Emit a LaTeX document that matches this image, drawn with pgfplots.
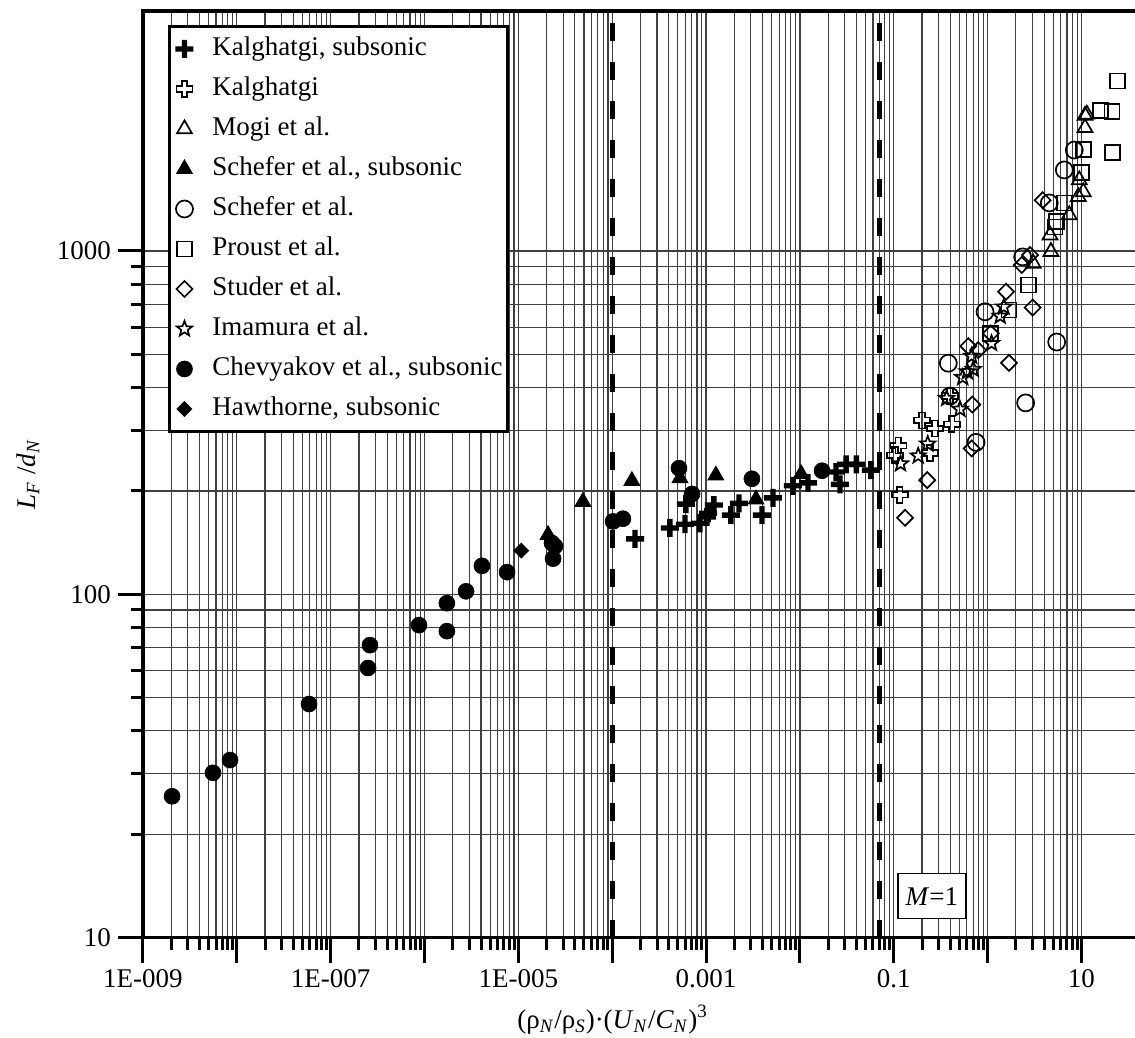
\documentclass[border=0pt]{standalone}
\usepackage{fontspec}
\setmainfont{Liberation Serif}
\usepackage{pgfplots}
\pgfplotsset{compat=1.18}

% outline / filled plus
\newcommand\pluspath[1]{%
  \pgfpathmoveto{\pgfqpoint{-#1\pgfplotmarksize}{\pgfplotmarksize}}%
  \pgfpathlineto{\pgfqpoint{#1\pgfplotmarksize}{\pgfplotmarksize}}%
  \pgfpathlineto{\pgfqpoint{#1\pgfplotmarksize}{#1\pgfplotmarksize}}%
  \pgfpathlineto{\pgfqpoint{\pgfplotmarksize}{#1\pgfplotmarksize}}%
  \pgfpathlineto{\pgfqpoint{\pgfplotmarksize}{-#1\pgfplotmarksize}}%
  \pgfpathlineto{\pgfqpoint{#1\pgfplotmarksize}{-#1\pgfplotmarksize}}%
  \pgfpathlineto{\pgfqpoint{#1\pgfplotmarksize}{-\pgfplotmarksize}}%
  \pgfpathlineto{\pgfqpoint{-#1\pgfplotmarksize}{-\pgfplotmarksize}}%
  \pgfpathlineto{\pgfqpoint{-#1\pgfplotmarksize}{-#1\pgfplotmarksize}}%
  \pgfpathlineto{\pgfqpoint{-\pgfplotmarksize}{-#1\pgfplotmarksize}}%
  \pgfpathlineto{\pgfqpoint{-\pgfplotmarksize}{#1\pgfplotmarksize}}%
  \pgfpathlineto{\pgfqpoint{-#1\pgfplotmarksize}{#1\pgfplotmarksize}}%
  \pgfpathclose}
\pgfdeclareplotmark{hplus}{\pluspath{.35}\pgfusepathqstroke}
\pgfdeclareplotmark{fplus}{\pluspath{.3}\pgfusepathqfill}
% outline star
\pgfdeclareplotmark{ostar}{%
  \pgfpathmoveto{\pgfpointpolar{90}{\pgfplotmarksize}}%
  \pgfpathlineto{\pgfpointpolar{126}{.42\pgfplotmarksize}}%
  \pgfpathlineto{\pgfpointpolar{162}{\pgfplotmarksize}}%
  \pgfpathlineto{\pgfpointpolar{198}{.42\pgfplotmarksize}}%
  \pgfpathlineto{\pgfpointpolar{234}{\pgfplotmarksize}}%
  \pgfpathlineto{\pgfpointpolar{270}{.42\pgfplotmarksize}}%
  \pgfpathlineto{\pgfpointpolar{306}{\pgfplotmarksize}}%
  \pgfpathlineto{\pgfpointpolar{342}{.42\pgfplotmarksize}}%
  \pgfpathlineto{\pgfpointpolar{18}{\pgfplotmarksize}}%
  \pgfpathlineto{\pgfpointpolar{54}{.42\pgfplotmarksize}}%
  \pgfpathclose\pgfusepathqstroke}
% square diamond
\newcommand\diapath{%
  \pgfpathmoveto{\pgfqpoint{0pt}{\pgfplotmarksize}}%
  \pgfpathlineto{\pgfqpoint{\pgfplotmarksize}{0pt}}%
  \pgfpathlineto{\pgfqpoint{0pt}{-\pgfplotmarksize}}%
  \pgfpathlineto{\pgfqpoint{-\pgfplotmarksize}{0pt}}%
  \pgfpathclose}
\pgfdeclareplotmark{odia}{\diapath\pgfusepathqstroke}
\pgfdeclareplotmark{fdia}{\diapath\pgfusepathqfill}

\begin{document}
\begin{tikzpicture}[font=\fontsize{13.5}{16}\selectfont]
\begin{axis}[
    name=ax,
    xmode=log, ymode=log,
    scale only axis,
    width=497.5pt, height=463.3pt,
    xmin=1e-9, xmax=40,
    ymin=10, ymax=5000,
    xtick={1e-9,1e-8,1e-7,1e-6,1e-5,1e-4,1e-3,1e-2,1e-1,1,10},
    xticklabels={1E-009,,1E-007,,1E-005,,0.001,,0.1,,10},
    ytick={10,100,1000},
    yticklabels={10,100,1000},
    grid=both,
    major grid style={black!75, line width=0.6pt},
    minor grid style={black!75, line width=0.6pt},
    axis line style={line width=1.8pt},
    tick style={black, line width=1.5pt},
    tick pos=left, tick align=outside,
    major tick length=12.5pt, minor tick length=6pt,
    every axis x label/.style={at={(axis description cs:0.472,-0.0885)}, anchor=center},
    every axis y label/.style={at={(axis description cs:-0.1156,0.5)}, rotate=90, anchor=center},
    xlabel={(ρ\textsubscript{\textit{N}}/ρ\textsubscript{\textit{S}})·(\textit{U}\textsubscript{\textit{N}}/\textit{C}\textsubscript{\textit{N}})\textsuperscript{3}},
    ylabel={\textit{L}\textsubscript{\textit{F}} /\textit{d}\textsubscript{\textit{N}}},
    legend image code/.code={%
        \path[draw=none, fill=none] (-5pt,-3pt) rectangle (5pt,3pt);
        \begin{pgfinterruptboundingbox}
        \draw[#1] plot coordinates {(0pt,0pt)};
        \end{pgfinterruptboundingbox}},
    legend style={at={(0,1)}, anchor=north west, xshift=12.5pt, yshift=-7pt,
        draw=black, fill=white, line width=1.5pt,
        inner xsep=2.5pt, inner ysep=4.75pt, row sep=7pt, column sep=9pt,
        font=\fontsize{13.5}{16}\selectfont,
        nodes={inner sep=0pt, text height=10pt, text depth=3pt},
        cells={anchor=west}},
]

% regime boundaries
\addplot[forget plot, black, line width=2.4pt, dash pattern=on 9pt off 10.5pt]
    coordinates {(1e-4,10) (1e-4,5000)};
\addplot[forget plot, black, line width=2.4pt, dash pattern=on 9pt off 10.5pt]
    coordinates {(0.071,10) (0.071,5000)};

% Kalghatgi, subsonic
\addplot[only marks, mark=fplus, mark size=4.5pt, mark options={solid, draw=none, fill=black}] coordinates {
    (1.75e-4,145) (4.12e-4,156) (5.96e-4,160) (6.1e-4,183) (8.6e-4,161)
    (1.02e-3,168) (1.05e-3,172) (1.21e-3,182) (1.84e-3,170) (2.24e-3,184)
    (3.94e-3,170) (5.16e-3,191) (8.43e-3,207) (0.0122,211) (0.0242,227)
    (0.0267,209) (0.031,239) (0.040,239) (0.057,230)
};
\addlegendentry{Kalghatgi, subsonic}

% Kalghatgi
\addplot[only marks, mark=hplus, mark size=4pt, mark options={solid, draw=black, fill=none, line width=0.85pt}] coordinates {
    (0.103,254) (0.112,271) (0.116,195) (0.200,321) (0.243,258)
    (0.275,304) (0.397,378) (0.414,313)
};
\addlegendentry{Kalghatgi}

% Mogi et al.
\addplot[only marks, mark=triangle, mark size=4.3pt, mark options={solid, draw=black, fill=none, line width=0.85pt}] coordinates {
    (3.06,920) (4.62,1112) (4.73,995) (7.41,1273) (9.25,1439)
    (9.48,1610) (10.45,1486) (10.9,2285) (10.9,2480) (11.4,2500)
};
\addlegendentry{Mogi et al.}

% Schefer et al., subsonic
\addplot[only marks, mark=triangle*, mark size=4.5pt, mark options={solid, draw=black, fill=black, line width=0.5pt}] coordinates {
    (2.07e-5,149) (4.87e-5,186) (1.62e-4,214) (5.27e-4,218)
    (1.27e-3,222) (3.40e-3,189) (0.0103,224)
};
\addlegendentry{Schefer et al., subsonic}

% Schefer et al.
\addplot[only marks, mark=o, mark size=4.25pt, mark options={solid, draw=black, fill=none, line width=0.85pt}] coordinates {
    (0.381,471) (0.397,378) (0.752,277) (0.938,665) (2.36,961)
    (2.54,361) (4.54,1380) (5.44,543) (6.56,1722) (8.38,1968)
};
\addlegendentry{Schefer et al.}

% Proust et al.
\addplot[only marks, mark=square, mark size=3.75pt, mark options={solid, draw=black, fill=none, line width=0.85pt}] coordinates {
    (1.08,575) (1.69,673) (2.71,796) (5.22,1175) (5.44,1216)
    (6.56,1380) (10.05,1690) (10.45,1977) (16.0,2560) (21.1,2552)
    (21.5,1932) (24.0,3126)
};
\addlegendentry{Proust et al.}

% Studer et al.
\addplot[only marks, mark=odia, mark size=4pt, mark options={solid, draw=black, fill=none, line width=0.85pt}] coordinates {
    (0.132,167) (0.227,215) (0.622,528) (0.676,266) (0.686,357)
    (0.794,514) (1.08,575) (1.57,761) (1.69,472) (2.31,910)
    (2.83,973) (3.02,684) (3.86,1406)
};
\addlegendentry{Studer et al.}

% Imamura et al.
\addplot[only marks, mark=ostar, mark size=4pt, mark options={solid, draw=black, fill=none, line width=0.85pt}] coordinates {
    (0.118,240) (0.182,253) (0.230,274) (0.366,372) (0.507,346)
    (0.542,428) (0.607,445) (0.676,494) (0.703,452) (1.10,538)
    (1.36,646) (1.49,687)
};
\addlegendentry{Imamura et al.}

% Chevyakov et al., subsonic
\addplot[only marks, mark=*, mark size=4pt, mark options={solid, draw=black, fill=black, line width=0.3pt}] coordinates {
    (2.04e-9,25.8) (5.57e-9,30.2) (8.46e-9,32.9) (5.88e-8,47.9)
    (2.50e-7,61.0) (2.62e-7,71.1) (8.73e-7,81.3) (1.73e-6,78.1)
    (1.73e-6,94.2) (2.77e-6,102) (4.09e-6,121) (7.57e-6,116)
    (2.28e-5,141) (2.45e-5,138) (2.34e-5,127) (1.02e-4,163)
    (1.30e-4,166) (5.14e-4,233) (7.08e-4,196) (3.08e-3,217)
    (0.0172,229)
};
\addlegendentry{Chevyakov et al., subsonic}

% Hawthorne, subsonic
\addplot[only marks, mark=fdia, mark size=4pt, mark options={solid, draw=none, fill=black}] coordinates {
    (1.07e-5,134)
};
\addlegendentry{Hawthorne, subsonic}

\node[draw=black, fill=white, line width=0.75pt, minimum width=34pt, minimum height=22.5pt, inner sep=0pt]
    at (axis cs:0.255,13.2) {\textit{M}=1};

\end{axis}
\pgfresetboundingbox
\path[use as bounding box] ([xshift=-71.5pt,yshift=-50pt]ax.south west)
    rectangle ([xshift=496pt,yshift=5.5pt]ax.north west);
\end{tikzpicture}
\end{document}
